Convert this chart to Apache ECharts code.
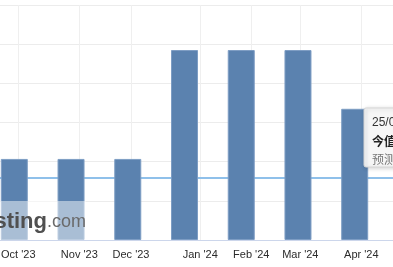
<!DOCTYPE html>
<html>
<head>
<meta charset="utf-8">
<script src="https://cdn.jsdelivr.net/npm/echarts@6/dist/echarts.min.js"></script>
<style>
html,body{margin:0;padding:0;background:#fff;}
#chart{width:393px;height:267px;}
</style>
</head>
<body>
<div id="chart"></div>
<script>
// Data
const categories = ["Oct '23", "Nov '23", "Dec '23", "Jan '24", "Feb '24", "Mar '24", "Apr '24"];
const values = [2.07, 2.07, 2.07, 4.85, 4.85, 4.85, 3.35];
// month tick positions, in bar-index units (bar i sits at i)
const tickPositions = [0.070, 1.146, 2.057, 3.278, 4.177, 5.041, 6.117];
const referenceLine = 1.6;
const yTicks = [0, 1, 2, 3, 4, 5, 6];
const tooltipLines = ["25/04/2024", "今值: 3.35", "预测: 3.30"];

const chart = echarts.init(document.getElementById('chart'), null, {renderer: 'canvas'});

const option = {
  animation: false,
  backgroundColor: '#fff',
  grid: {left: 0, right: 0, top: 5, bottom: 27, containLabel: false, outerBoundsMode: 'none'},
  xAxis: {
    type: 'value',
    min: -0.252,
    max: 6.675,
    axisLine: {show: true, onZero: false, lineStyle: {color: '#ccd6eb', width: 1}},
    axisTick: {show: false, customValues: tickPositions},
    axisLabel: {
      customValues: tickPositions,
      formatter: function (v) {
        const idx = tickPositions.findIndex(function (t) { return Math.abs(t - v) < 1e-6; });
        return idx >= 0 ? categories[idx] : '';
      },
      color: '#2b2b2b',
      fontSize: 11,
      fontFamily: '"Liberation Sans", Arial, sans-serif',
      margin: 9,
      showMinLabel: true,
      showMaxLabel: true
    },
    splitLine: {show: true, lineStyle: {color: '#efefef', width: 1}}
  },
  yAxis: {
    type: 'value',
    min: yTicks[0],
    max: yTicks[yTicks.length - 1],
    interval: 1,
    axisLine: {show: false},
    axisTick: {show: false},
    axisLabel: {show: false},
    splitLine: {show: true, lineStyle: {color: '#ececec', width: 1}}
  },
  series: [
    {
      type: 'line',
      data: [],
      z: 1,
      markLine: {
        silent: true,
        z: 1,
        symbol: 'none',
        label: {show: false},
        lineStyle: {color: '#8fc0ea', width: 2, type: 'solid'},
        data: [{yAxis: referenceLine}]
      }
    },
    {
      type: 'bar',
      z: 3,
      barWidth: 27,
      data: values.map(function (v, i) { return [i, v]; }),
      itemStyle: {color: '#5b82af', borderColor: '#7d9dc4', borderWidth: 1}
    }
  ],
  graphic: [
    {
      type: 'rect',
      z: 50,
      shape: {x: 0, y: 201, width: 86, height: 39},
      style: {fill: 'rgba(255,255,255,0.48)'}
    },
    {
      type: 'text',
      z: 51,
      x: 86,
      y: 233,
      style: {
        text: '{a|Investing}{b|.com}',
        align: 'right',
        verticalAlign: 'bottom',
        rich: {
          a: {fontSize: 22, fontWeight: 'bold', fill: '#505050', fontFamily: 'Liberation Sans, Arial, sans-serif'},
          b: {fontSize: 18, fill: '#6a6a6a', fontFamily: 'Liberation Sans, Arial, sans-serif'}
        }
      }
    },
    {
      type: 'rect',
      z: 60,
      shape: {x: 364, y: 108, width: 60, height: 59, r: 2},
      style: {fill: 'rgba(247,247,247,0.96)', stroke: '#d6d6d6', lineWidth: 1, shadowBlur: 4, shadowColor: 'rgba(0,0,0,0.18)', shadowOffsetX: 1, shadowOffsetY: 1}
    },
    {
      type: 'text', z: 61, x: 372, y: 123,
      style: {text: tooltipLines[0], fill: '#333', fontSize: 12, verticalAlign: 'middle', fontFamily: 'Liberation Sans, Arial, sans-serif'}
    },
    {
      type: 'text', z: 61, x: 372, y: 141,
      style: {text: tooltipLines[1], fill: '#222', fontSize: 12, fontWeight: 'bold', verticalAlign: 'middle', fontFamily: 'Noto Sans CJK SC, sans-serif'}
    },
    {
      type: 'text', z: 61, x: 372, y: 159,
      style: {text: tooltipLines[2], fill: '#777', fontSize: 12, verticalAlign: 'middle', fontFamily: 'Noto Sans CJK SC, sans-serif'}
    }
  ]
};
chart.setOption(option);
</script>
</body>
</html>
